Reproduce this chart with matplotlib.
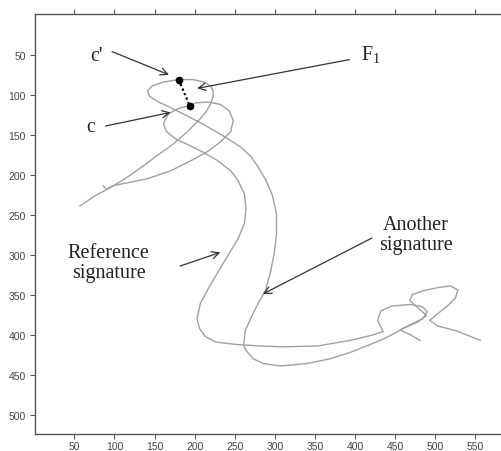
import numpy as np
import matplotlib
matplotlib.use("Agg")
import matplotlib.pyplot as plt

plt.rcParams["font.family"] = ["Liberation Sans", "DejaVu Sans"]
plt.rcParams["mathtext.fontset"] = "custom"
plt.rcParams["mathtext.rm"] = "Liberation Serif"

# 参考签名 (lower loop, passes through c)
ref_x = [86, 90, 97, 111, 141, 170, 198, 216, 232, 245, 248, 243, 232, 217, 202, 192,
         180, 167, 161, 165, 176, 191, 211, 228, 245, 254, 262, 264, 262, 254, 242, 230,
         217, 207, 203, 206, 213, 226, 251, 282, 311, 353, 394, 419, 435, 428, 432, 446,
         469, 484, 490, 484, 469, 456, 469, 481]
ref_y = [214, 218, 214, 211, 205, 195, 181, 171, 159, 146, 132, 120, 112, 109, 110, 114,
         117, 124, 136, 146, 155, 162, 172, 182, 195, 207, 224, 242, 261, 280, 300, 320,
         342, 361, 380, 392, 402, 409, 412, 414, 415, 414, 407, 401, 396, 382, 370, 364,
         362, 365, 371, 380, 387, 394, 400, 407]

# 另一个签名 (upper loop, passes through c')
oth_x = [57, 76, 95, 116, 136, 153, 170, 182, 191, 201, 207, 215, 220, 223, 223, 220,
         211, 198, 180, 161, 147, 141, 144, 155, 170, 188, 211, 235, 257, 270, 279, 289,
         297, 302, 302, 299, 294, 288, 279, 271, 263, 261, 266, 273, 286, 307, 339, 369,
         394, 419, 438, 460, 478, 489, 478, 468, 471, 484, 503, 519, 528, 525, 514, 501,
         493, 503, 526, 556]
oth_y = [239, 226, 216, 203, 189, 176, 164, 154, 146, 136, 130, 120, 111, 102, 95, 89,
         84, 81, 81, 84, 89, 95, 102, 109, 116, 125, 137, 151, 165, 177, 190, 207,
         226, 249, 274, 299, 324, 345, 361, 377, 395, 414, 422, 430, 436, 439, 436, 430,
         422, 412, 404, 392, 384, 376, 366, 357, 350, 345, 341, 339, 344, 354, 365, 375,
         382, 389, 395, 407]

# F1 端点 c' 和 c
pts_x = [180, 194]
pts_y = [81, 114]

x_ticks = [50, 100, 150, 200, 250, 300, 350, 400, 450, 500, 550]
y_ticks = [50, 100, 150, 200, 250, 300, 350, 400, 450, 500]

# 标注: 文本, 文本位置, 箭头起点, 箭头终点
labels = ["c'", "c", r"$\mathrm{F}_1$", "Reference\nsignature", "Another\nsignature"]
label_xy = [(78, 51), (71, 140), (420, 50), (93, 310), (476, 275)]
arrow_from = [(97, 46), (89, 139), (393, 56), (182, 314), (421, 279)]
arrow_to = [(168, 75), (170, 122), (203, 92), (232, 297), (285, 349)]

fig = plt.figure(figsize=(5.02, 4.52), dpi=100)
ax = fig.add_axes([35 / 502, 17 / 452, 475 / 502, 420 / 452])

ax.plot(ref_x, ref_y, color="#a0a0a0", lw=1.0)
ax.plot(oth_x, oth_y, color="#a0a0a0", lw=1.0)
ax.plot(pts_x, pts_y, color="black", lw=1.6, ls=(0, (1, 1.2)))
ax.plot(pts_x, pts_y, "o", color="black", ms=4.5)

for txt, xy, a0, a1 in zip(labels, label_xy, arrow_from, arrow_to):
    ax.text(xy[0], xy[1], txt, family="Liberation Serif", fontsize=14.5,
            color="#222222", ha="center", va="center", linespacing=1.1)
    ax.annotate("", xy=a1, xytext=a0,
                arrowprops=dict(arrowstyle="->", color="#333333", lw=0.9,
                                mutation_scale=13, shrinkA=0, shrinkB=0))

ax.set_xlim(1, 593)
ax.set_ylim(524, -1)
ax.set_xticks(x_ticks)
ax.set_yticks(y_ticks)
ax.spines["right"].set_visible(False)
for s in ["left", "bottom", "top"]:
    ax.spines[s].set_color("#555555")
    ax.spines[s].set_linewidth(1.0)
ax.tick_params(axis="both", direction="out", length=3.5, width=0.8,
               color="#555555", labelsize=7.5, labelcolor="#444444")
ax.tick_params(axis="x", top=True, labeltop=False, pad=1.5)
ax.tick_params(axis="y", pad=3)

fig.savefig("out.png", dpi=100)
